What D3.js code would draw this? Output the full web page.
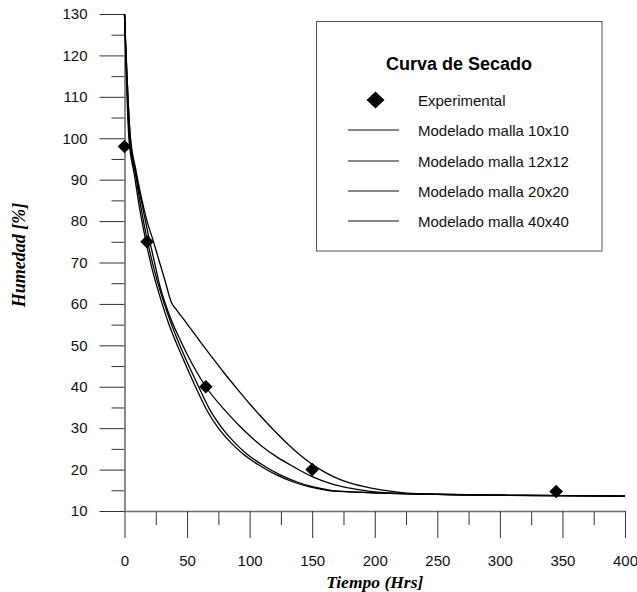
<!DOCTYPE html>
<html>
<head>
<meta charset="utf-8">
<script src="https://cdn.jsdelivr.net/npm/d3@7"></script>
<style>
  html, body { margin: 0; padding: 0; background: #fff; }
  svg { display: block; }
</style>
</head>
<body>
<svg id="chart" width="637" height="592"></svg>
<script>
// Experimental drying data
const expTime = [0, 18, 65, 150, 345];
const expHumidity = [98, 75, 40, 20, 14.7];

// Model results for each mesh size (time in hours, moisture in %)
const time10 = [0, 4.5, 9, 14, 18, 22.8, 27, 32.4, 37.7, 41.7, 50, 60, 70, 80, 90, 100, 110, 120, 130, 140, 150, 160, 170, 180, 190, 205, 220, 250, 300, 350, 400];
const hum10  = [130, 101, 92.5, 85, 80, 75.4, 71.1, 65.6, 60.2, 58.5, 55.2, 51.1, 47.1, 43.2, 39.5, 35.9, 32.5, 29.3, 26.3, 23.6, 21.3, 19.4, 17.9, 16.8, 16.0, 15.1, 14.5, 14.0, 13.8, 13.7, 13.6];

const time12 = [0, 4.5, 9, 14, 19.5, 24, 28.4, 35, 45, 55, 65, 80, 95, 110, 122, 135, 150, 165, 180, 195, 210, 250, 300, 350, 400];
const hum12  = [130, 100.5, 91.5, 84, 76, 70, 64.2, 58, 51, 45, 40, 34.4, 29.6, 25.6, 23.0, 20.7, 18.3, 16.6, 15.5, 14.8, 14.4, 14.05, 13.8, 13.7, 13.6];

const time20 = [0, 4, 9, 13.3, 18.5, 23.5, 30, 37, 47, 58.5, 68.3, 78, 88, 98, 111, 124, 138, 151, 165, 183, 206, 250, 300, 350, 400];
const hum20  = [130, 100, 91, 83, 75, 68.5, 61.7, 55.5, 48, 40.5, 34.4, 30, 26.5, 23.7, 21.0, 18.8, 17.0, 15.8, 15.0, 14.6, 14.3, 14.0, 13.8, 13.7, 13.6];

const time40 = [0, 3.5, 8, 12.1, 17, 22, 28.4, 35, 45, 56, 65.7, 75, 85, 95, 108, 121, 135, 148, 162, 180, 204, 250, 300, 350, 400];
const hum40  = [130, 100, 91, 83, 75.3, 68.5, 61.7, 55.5, 48, 40.5, 34.4, 30, 26.5, 23.7, 21.0, 18.8, 17.0, 15.8, 15.0, 14.6, 14.3, 14.0, 13.8, 13.7, 13.6];

const legendLabels = ["Experimental", "Modelado malla 10x10", "Modelado malla 12x12", "Modelado malla 20x20", "Modelado malla 40x40"];
const legendTitle = "Curva de Secado";

const xTicks = [0, 50, 100, 150, 200, 250, 300, 350, 400];
const xMinorTicks = [25, 75, 125, 175, 225, 275, 325, 375];
const yTicks = [10, 20, 30, 40, 50, 60, 70, 80, 90, 100, 110, 120, 130];
const yMinorTicks = [15, 25, 35, 45, 55, 65, 75, 85, 95, 105, 115, 125];

const svg = d3.select("#chart");
const x = d3.scaleLinear().domain([0, 400]).range([124.5, 625]);
const y = d3.scaleLinear().domain([10, 130]).range([511, 14]);

const sans = "Arial, 'Liberation Sans', sans-serif";
const serif = "'Times New Roman', 'Liberation Serif', serif";

// Axes: major and minor ticks drawn separately
function styleAxis(g, showDomain) {
  g.select(".domain").attr("stroke", showDomain ? "#6e6e6e" : "none").attr("stroke-width", 1.6);
  g.selectAll(".tick line").attr("stroke", "#333").attr("stroke-width", 1);
  g.selectAll(".tick text").attr("fill", "#111").style("font-family", sans).style("font-size", "15px");
}

svg.append("g").attr("transform", `translate(0,${y(10)})`)
  .call(d3.axisBottom(x).tickValues(xMinorTicks).tickSize(14).tickSizeOuter(0).tickFormat(""))
  .call(g => styleAxis(g, false));
svg.append("g").attr("transform", `translate(${x(0)},0)`)
  .call(d3.axisLeft(y).tickValues(yMinorTicks).tickSize(13).tickSizeOuter(0).tickFormat(""))
  .call(g => styleAxis(g, false));

svg.append("g").attr("transform", `translate(0,${y(10)})`)
  .call(d3.axisBottom(x).tickValues(xTicks).tickSize(27).tickSizeOuter(0).tickPadding(17).tickFormat(d3.format("d")))
  .call(g => styleAxis(g, true));
svg.append("g").attr("transform", `translate(${x(0)},0)`)
  .call(d3.axisLeft(y).tickValues(yTicks).tickSize(25).tickSizeOuter(0).tickPadding(12).tickFormat(d3.format("d")))
  .call(g => styleAxis(g, true));

// Axis titles
svg.append("text")
  .attr("x", (x(0) + x(400)) / 2).attr("y", 588)
  .attr("text-anchor", "middle")
  .style("font-family", serif).style("font-weight", "bold").style("font-style", "italic").style("font-size", "17.5px")
  .text("Tiempo (Hrs]");
svg.append("text")
  .attr("transform", "translate(25,255) rotate(-90)")
  .attr("text-anchor", "middle")
  .style("font-family", serif).style("font-weight", "bold").style("font-style", "italic").style("font-size", "18px")
  .text("Humedad [%]");

// Model curves
const line = d3.line().x(d => x(d[0])).y(d => y(d[1])).curve(d3.curveMonotoneX);
const models = [
  d3.zip(time10, hum10),
  d3.zip(time12, hum12),
  d3.zip(time20, hum20),
  d3.zip(time40, hum40)
];
svg.append("g").selectAll("path").data(models).join("path")
  .attr("d", line)
  .attr("fill", "none")
  .attr("stroke", "#000")
  .attr("stroke-width", 1.3);

// Experimental points as diamonds
const diamond = (cx, cy, hw, hh) => `M${cx},${cy - hh}L${cx + hw},${cy}L${cx},${cy + hh}L${cx - hw},${cy}Z`;
svg.append("g").selectAll("path").data(d3.zip(expTime, expHumidity)).join("path")
  .attr("d", d => diamond(x(d[0]), y(d[1]), 6.8, 6.8))
  .attr("fill", "#000");

// Legend
const lg = svg.append("g");
lg.append("rect").attr("x", 316.5).attr("y", 21.5).attr("width", 285.5).attr("height", 229.5)
  .attr("fill", "#fff").attr("stroke", "#555").attr("stroke-width", 1);
lg.append("text").attr("x", 459).attr("y", 70).attr("text-anchor", "middle")
  .style("font-family", sans).style("font-weight", "bold").style("font-size", "18px")
  .text(legendTitle);
const rowY = [100, 130, 161, 191, 221];
legendLabels.forEach((label, i) => {
  const ry = rowY[i];
  if (i === 0) {
    lg.append("path").attr("d", diamond(375.5, ry, 9, 8.5)).attr("fill", "#000");
  } else {
    lg.append("line").attr("x1", 348).attr("x2", 399).attr("y1", ry).attr("y2", ry)
      .attr("stroke", "#111").attr("stroke-width", 1);
  }
  lg.append("text").attr("x", 418).attr("y", ry + 5.5)
    .style("font-family", sans).style("font-size", "15px").attr("fill", "#111")
    .text(label);
});
</script>
</body>
</html>
